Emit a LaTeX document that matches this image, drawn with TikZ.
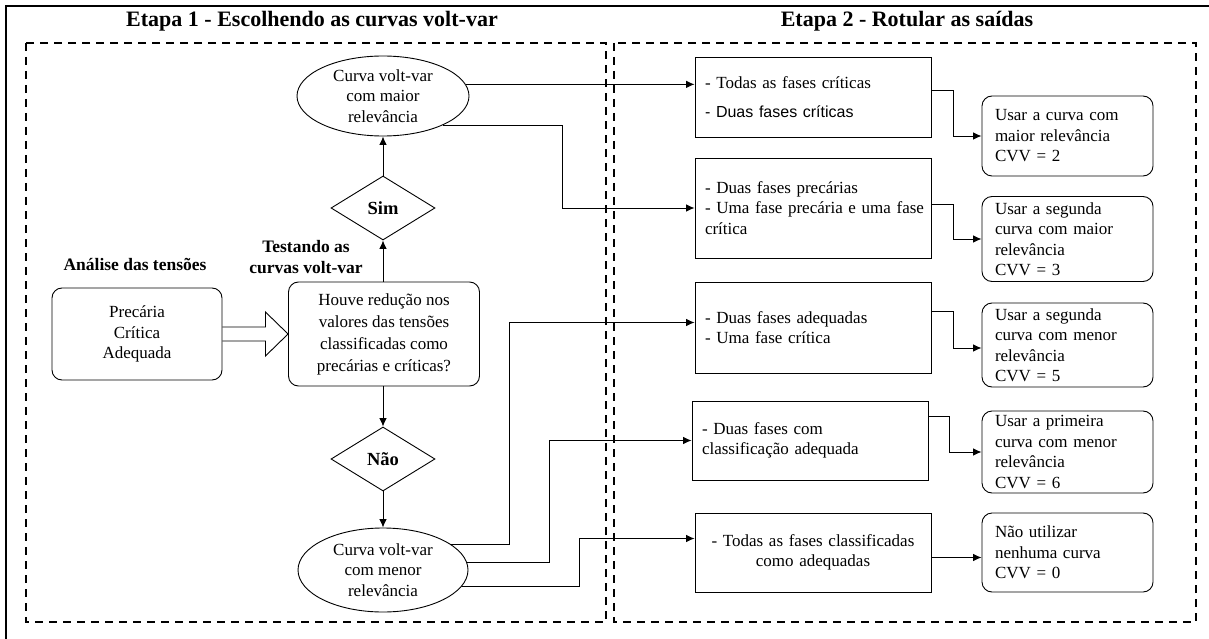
\documentclass[tikz,border=0pt]{standalone}
\usepackage{fontspec}
\setmainfont{Liberation Serif}
\setsansfont{Liberation Sans}
\usetikzlibrary{shapes.geometric,arrows.meta,calc}
\begin{document}
\begin{tikzpicture}[x=1pt,y=-1pt,
 every node/.style={font=\fontsize{17}{20.5}\selectfont},
 ell/.style={draw,ellipse,line width=0.9pt,inner sep=0pt,align=center},
 dia/.style={draw,diamond,line width=0.9pt,inner sep=0pt,minimum width=104pt,minimum height=64pt,font=\fontsize{18.5}{20}\selectfont\bfseries},
 rbox/.style={draw,rounded corners=10pt,line width=0.9pt,align=center},
 cbox/.style={draw,rectangle,line width=0.9pt,text width=216pt,inner xsep=10pt,align=left},
 res/.style={draw,rounded corners=10pt,line width=0.9pt,text width=145pt,inner xsep=13pt,inner ysep=1pt,align=left},
 arr/.style={line width=0.9pt,-{Latex[length=8.5pt,width=7.5pt]}},
 lbl/.style={font=\fontsize{17.5}{21}\selectfont\bfseries,align=center},
 ttl/.style={font=\fontsize{22}{24}\selectfont\bfseries},
 zone/.style={line width=1.8pt,dash pattern=on 8pt off 6pt}
]
\useasboundingbox (0,0) rectangle (1209,639);
\draw[line width=1.2pt] (6,639) -- (6,6) -- (1209,6);
\draw[zone] (26,43) rectangle (606,622);
\draw[zone] (614,43) rectangle (1196,622);

\node[ttl] (t1) at (312,21) {Etapa 1 - Escolhendo as curvas volt-var};
\node[ttl] (t2) at (907,21) {Etapa 2 - Rotular as saídas};

% stage 1
\node[ell,minimum width=172pt,minimum height=80pt] (eT) at (383,96) {Curva volt-var\\com maior\\relevância};
\node[dia] (sim) at (383,208) {Sim};
\node[lbl] (test) at (306,257) {Testando as\\curvas volt-var};
\node[lbl] (anal) at (135,264) {Análise das tensões};
\node[rbox,minimum width=170pt,minimum height=92pt] (pca) at (137,334) {Precária\\Crítica\\Adequada};
\node[rbox,minimum width=191pt,minimum height=104pt,font=\fontsize{17}{22}\selectfont] (dec) at (384,334) {Houve redução nos\\valores das tensões\\classificadas como\\precárias e críticas?};
\node[dia] (nao) at (383,459) {Não};
\node[ell,minimum width=170pt,minimum height=84pt] (eB) at (383,570) {Curva volt-var\\com menor\\relevância};

\draw[arr] (dec.north -| sim.south) -- (sim.south);
\draw[arr] (sim.north) -- (eT.south);
\draw[arr] (dec.south -| nao.north) -- (nao.north);
\draw[arr] (nao.south) -- (eB.north);
\draw[line width=0.9pt,line join=miter] ($(pca.east)+(0,-7)$) -- ++(43,0) -- ++(0,-15) -- (dec.west) -- ($(pca.east)+(43,22)$) -- ++(0,-15) -- ($(pca.east)+(0,7)$);

% stage 2 boxes
\node[cbox,minimum height=80pt] (b1) at (813,97) {- Todas as fases críticas\\[8pt]{\sffamily\fontsize{16}{19}\selectfont - Duas fases críticas}};
\node[cbox,minimum height=100pt] (b2) at (813,208) {- Duas fases precárias\\\mbox{- Uma fase precária e uma fase}\\crítica};
\node[cbox,minimum height=91pt] (b3) at (813,327.5) {- Duas fases adequadas\\- Uma fase crítica};
\node[cbox,minimum height=79pt] (b4) at (810,440.5) {- Duas fases com\\classificação adequada};
\node[cbox,minimum height=79pt,align=center] (b5) at (813,552.5) {- Todas as fases classificadas\\como adequadas};

\node[res,minimum height=80pt] (r1) at (1067.5,136) {Usar a curva com\\maior relevância\\CVV = 2};
\node[res,minimum height=85pt] (r2) at (1067.5,239) {Usar a segunda\\curva com maior\\relevância\\CVV = 3};
\node[res,minimum height=84pt] (r3) at (1067.5,345) {Usar a segunda\\curva com menor\\relevância\\CVV = 5};
\node[res,minimum height=82pt] (r4) at (1067.5,452) {Usar a primeira\\curva com menor\\relevância\\CVV = 6};
\node[res,minimum height=79pt] (r5) at (1067.5,552.5) {Não utilizar\\nenhuma curva\\CVV = 0};

% stage 1 -> stage 2
\draw[arr] (eT.8) -- (eT.8 -| b1.west);
\draw[arr] (eT.-26) -| ($(b2.west)+(-132,0)$) -- (b2.west);
\draw[arr] (eB.21) -| ($(b3.west)+(-185,-5)$) -- ($(b3.west)+(0,-5)$);
\draw[arr] (eB.5) -| ($(b4.west)+(-142,0)$) -- (b4.west);
\draw[arr] (eB.-12) -| ($(b5.west)+(-115,-14)$) -- ($(b5.west)+(0,-14)$);

% boxes -> results
\draw[arr] ($(b1.east)+(0,-7)$) -- ++(22,0) |- (r1.west);
\draw[arr] ($(b2.east)+(0,-4)$) -- ++(22,0) |- (r2.west);
\draw[arr] ($(b3.east)+(0,-16)$) -- ++(22,0) |- ($(r3.west)+(0,3)$);
\draw[arr] ($(b4.east)+(0,-24)$) -- ++(21,0) |- (r4.west);
\draw[arr] ($(b5.east)+(0,5)$) -- ($(r5.west)+(0,5)$);
\end{tikzpicture}
\end{document}
